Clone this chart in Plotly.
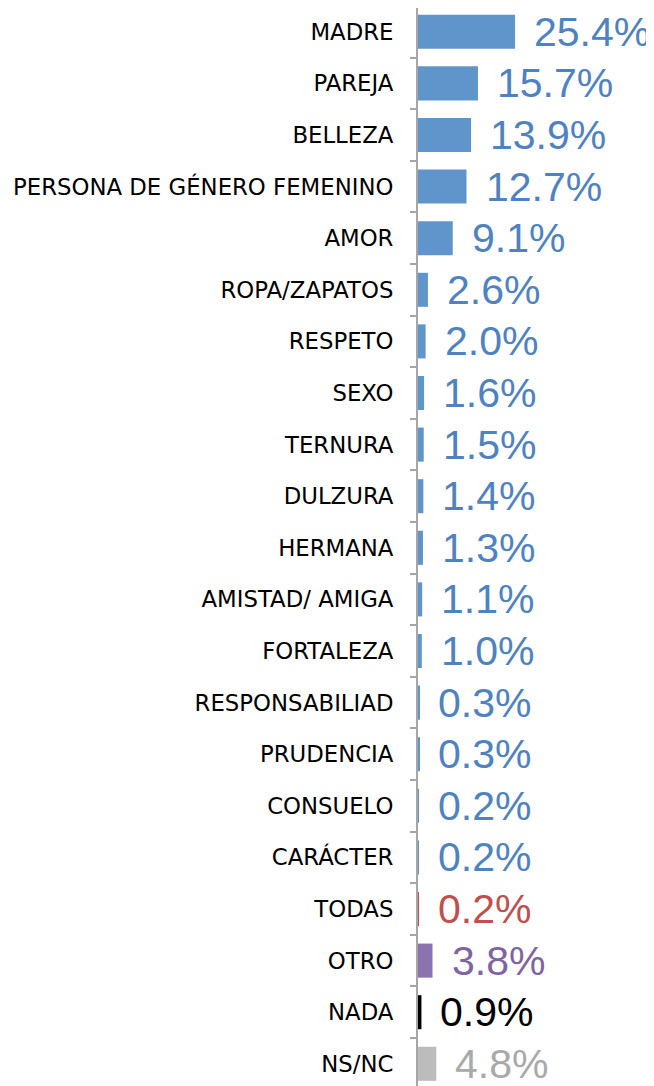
import plotly.graph_objects as go

categories = ["MADRE", "PAREJA", "BELLEZA", "PERSONA DE GÉNERO FEMENINO", "AMOR",
              "ROPA/ZAPATOS", "RESPETO", "SEXO", "TERNURA", "DULZURA", "HERMANA",
              "AMISTAD/ AMIGA", "FORTALEZA", "RESPONSABILIAD", "PRUDENCIA", "CONSUELO",
              "CARÁCTER", "TODAS", "OTRO", "NADA", "NS/NC"]
values = [25.4, 15.7, 13.9, 12.7, 9.1, 2.6, 2.0, 1.6, 1.5, 1.4, 1.3, 1.1, 1.0,
          0.3, 0.3, 0.2, 0.2, 0.2, 3.8, 0.9, 4.8]
labels = ["25.4%", "15.7%", "13.9%", "12.7%", "9.1%", "2.6%", "2.0%", "1.6%", "1.5%",
          "1.4%", "1.3%", "1.1%", "1.0%", "0.3%", "0.3%", "0.2%", "0.2%", "0.2%",
          "3.8%", "0.9%", "4.8%"]

BLUE_BAR, BLUE_TXT = "#5f95cb", "#4f82c0"
bar_colors = [BLUE_BAR] * 17 + ["#c0504d", "#8b73b0", "#000000", "#bcbcbc"]
txt_colors = [BLUE_TXT] * 17 + ["#c0504d", "#8064a2", "#000000", "#a9a9a9"]

fig = go.Figure()
fig.add_trace(go.Bar(
    x=values, y=categories, orientation="h",
    marker=dict(color=bar_colors, line=dict(width=0)),
    hoverinfo="skip",
))

for c, v, t, col in zip(categories, values, labels, txt_colors):
    fig.add_annotation(x=v, y=c, text=t, xanchor="left", yanchor="middle",
                       xshift=17, yshift=0, showarrow=False,
                       font=dict(family="Liberation Sans, Arial, sans-serif", size=41, color=col))

# page body has an 8px margin; figure is sized to fill the rest of the window
fig.update_layout(
    width=646, height=1078,
    margin=dict(l=410, r=0, t=0, b=0),
    paper_bgcolor="white", plot_bgcolor="white",
    bargap=0.34, showlegend=False,
    xaxis=dict(visible=False, range=[0, 61.8], showgrid=False, zeroline=False),
    yaxis=dict(type="category", categoryorder="array", categoryarray=categories,
               range=[20.43, -0.461], showgrid=False, zeroline=False,
               showline=True, linecolor="#a6a6a6", linewidth=2,
               ticks="outside", tickson="boundaries", ticklen=6, tickcolor="#a6a6a6",
               tickwidth=2, ticklabelstandoff=18,
               tickfont=dict(family="DejaVu Sans, sans-serif", size=22.8, color="black")),
)

fig.write_html("out.html")
